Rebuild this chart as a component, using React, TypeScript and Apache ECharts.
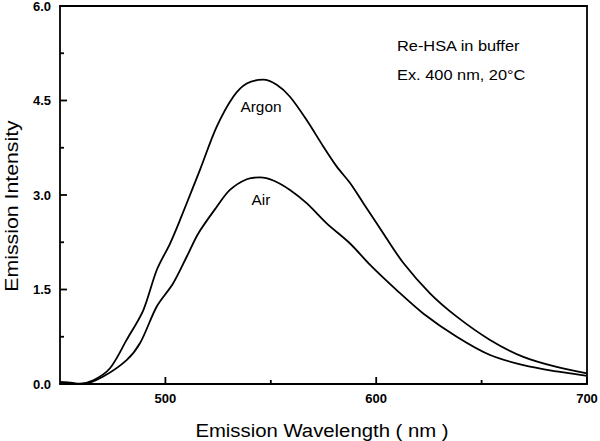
import React, { useEffect, useRef } from "react";
import * as echarts from "echarts";

const argonX = [450, 454, 458.5, 465.8, 473.7, 481.6, 489.5, 495.9, 502.2, 506.9, 513.2, 516.4, 524.3, 532.2, 538.6, 546.4, 552.8, 559.1, 567.0, 574.9, 581.3, 587.6, 593.9, 603.4, 612.9, 625.5, 638.2, 654.0, 669.8, 685.6, 700];
const argonY = [0.03, 0.02, 0.0, 0.06, 0.25, 0.70, 1.17, 1.81, 2.23, 2.60, 3.13, 3.40, 4.08, 4.56, 4.77, 4.83, 4.75, 4.56, 4.19, 3.77, 3.45, 3.19, 2.87, 2.39, 1.92, 1.44, 1.07, 0.70, 0.43, 0.27, 0.17];

const airX = [450, 455, 461, 470.5, 481.6, 488, 495.9, 503.7, 510.1, 515.6, 524.3, 530.6, 538.6, 544.9, 551.2, 559.1, 567.0, 576.5, 587.6, 597.1, 609.7, 622.3, 638.2, 654.0, 669.8, 685.6, 700];
const airY = [0.03, 0.02, 0.0, 0.12, 0.38, 0.65, 1.23, 1.60, 2.02, 2.39, 2.81, 3.08, 3.25, 3.28, 3.23, 3.08, 2.87, 2.55, 2.23, 1.89, 1.49, 1.12, 0.75, 0.46, 0.30, 0.20, 0.13];

const xMajorTicks = [500, 600, 700];
const xMinorTicks = [550, 650];
const yMajorTicks = [0, 1.5, 3, 4.5, 6];
const yMinorTicks = [0.75, 2.25, 3.75, 5.25];
const seriesNames = ["Argon", "Air"];
const noteLines = ["Re-HSA in buffer", "Ex. 400 nm, 20\u00B0C"];
const xTitle = "Emission Wavelength ( nm )";
const yTitle = "Emission Intensity";

const FONT = "Liberation Sans, Arial, sans-serif";

export default function App() {
  const ref = useRef<HTMLDivElement>(null);
  useEffect(() => {
    if (!ref.current) return;
    const chart = echarts.init(ref.current, null, { renderer: "svg" });
    const pair = (xs: number[], ys: number[]) => xs.map((x, i) => [x, ys[i]]);
    const lineStyle = { color: "#000", width: 1.8 };
    const axisLineStyle = { color: "#000", width: 1.8 };
    const tickLabel = {
      show: true,
      fontFamily: FONT,
      fontWeight: "bold",
      fontSize: 13,
      color: "#000",
    };
    chart.setOption({
      animation: false,
      backgroundColor: "#fff",
      grid: {
        left: 60,
        right: 13,
        top: 6,
        bottom: 57,
        containLabel: false,
        outerBoundsMode: "none",
      },
      xAxis: [
        {
          type: "value",
          min: 450,
          max: 700,
          interval: 50,
          position: "bottom",
          axisLine: { show: true, onZero: false, lineStyle: axisLineStyle },
          axisTick: { show: false },
          minorTick: { show: false },
          axisLabel: { ...tickLabel, customValues: xMajorTicks, margin: 8 },
          splitLine: { show: false },
        },
        {
          type: "value",
          min: 450,
          max: 700,
          interval: 50,
          position: "top",
          axisLine: { show: true, onZero: false, lineStyle: axisLineStyle },
          axisTick: { show: false },
          axisLabel: { show: false },
          splitLine: { show: false },
        },
      ],
      yAxis: [
        {
          type: "value",
          min: 0,
          max: 6,
          interval: 1.5,
          position: "left",
          axisLine: { show: true, onZero: false, lineStyle: axisLineStyle },
          axisTick: { show: false },
          minorTick: { show: false },
          axisLabel: { ...tickLabel, formatter: (v: number) => v.toFixed(1), margin: 9 },
          splitLine: { show: false },
          minorSplitLine: { show: false },
        },
        {
          type: "value",
          min: 0,
          max: 6,
          interval: 1.5,
          position: "right",
          axisLine: { show: true, onZero: false, lineStyle: axisLineStyle },
          axisTick: { show: false },
          axisLabel: { show: false },
          splitLine: { show: false },
        },
      ],
      series: [
        {
          name: seriesNames[0],
          type: "line",
          data: pair(argonX, argonY),
          smooth: 0.3,
          symbol: "none",
          lineStyle,
        },
        {
          name: seriesNames[1],
          type: "line",
          data: pair(airX, airY),
          smooth: 0.3,
          symbol: "none",
          lineStyle,
        },
      ],
    });

    const toPx = (x: number, y: number) =>
      chart.convertToPixel({ xAxisIndex: 0, yAxisIndex: 0 }, [x, y]) as number[];
    const origin = toPx(450, 0);
    const ticks: any[] = [];
    const addTick = (x1: number, y1: number, x2: number, y2: number) =>
      ticks.push({
        type: "rect",
        shape: {
          x: Math.min(x1, x2) - (x1 === x2 ? 0.9 : 0),
          y: Math.min(y1, y2) - (y1 === y2 ? 0.9 : 0),
          width: x1 === x2 ? 1.8 : Math.abs(x2 - x1),
          height: y1 === y2 ? 1.8 : Math.abs(y2 - y1),
        },
        style: { fill: "#000" },
        z: 100,
        silent: true,
      });
    yMajorTicks.forEach((v) => {
      const p = toPx(450, v);
      addTick(p[0], p[1], p[0] + 7, p[1]);
    });
    yMinorTicks.forEach((v) => {
      const p = toPx(450, v);
      addTick(p[0], p[1], p[0] + 4, p[1]);
    });
    xMajorTicks.forEach((v) => {
      const p = toPx(v, 0);
      addTick(p[0], p[1], p[0], p[1] - 7);
    });
    xMinorTicks.forEach((v) => {
      const p = toPx(v, 0);
      addTick(p[0], p[1], p[0], p[1] - 4);
    });

    const textStyle = (text: string, size: number, align: string) => ({
      text,
      fontFamily: FONT,
      fontSize: size,
      fill: "#000",
      align,
      verticalAlign: "middle",
    });

    chart.setOption({
      graphic: [
        ...ticks,
        { type: "text", x: 261, y: 107, scaleX: 1.1, style: textStyle(seriesNames[0], 14, "center") },
        { type: "text", x: 261, y: 200, scaleX: 1.1, style: textStyle(seriesNames[1], 14, "center") },
        { type: "text", x: 397, y: 46, scaleX: 1.17, style: textStyle(noteLines[0], 14, "left") },
        { type: "text", x: 397, y: 75, scaleX: 1.17, style: textStyle(noteLines[1], 14, "left") },
        { type: "text", x: 322, y: origin[1] + 46, scaleX: 1.07, style: textStyle(xTitle, 19, "center") },
        { type: "text", x: 11, y: 206, rotation: Math.PI / 2, scaleX: 1.12, style: textStyle(yTitle, 19, "center") },
      ],
    });
    return () => chart.dispose();
  }, []);
  return <div ref={ref} style={{ width: 600, height: 441, position: "absolute", left: 0, top: 0 }} />;
}
